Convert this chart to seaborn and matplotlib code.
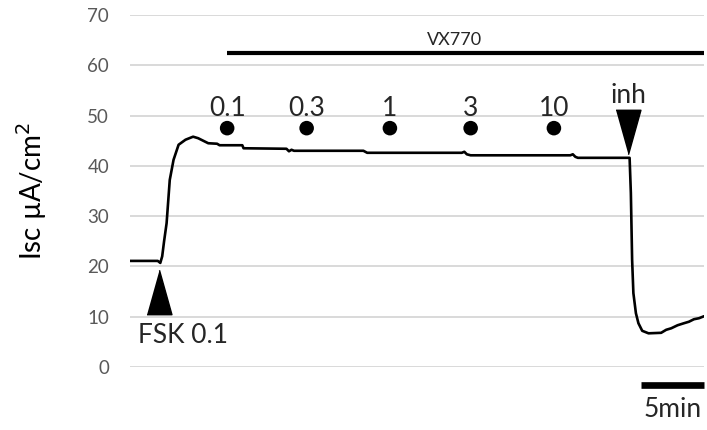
import matplotlib
matplotlib.use("Agg")
import matplotlib.pyplot as plt
import pandas as pd
import seaborn as sns

# short-circuit current trace (time in min, Isc in uA/cm2)
time_min = [0.0, 2.2, 2.4, 2.55, 2.7, 2.9, 3.15, 3.45, 3.85, 4.4,
            5.0, 5.4, 5.8, 6.2, 6.9, 7.1, 8.9, 9.0, 12.4,
            12.6, 12.8, 13.0, 18.5, 18.8, 26.3, 26.5, 26.7, 27.0, 34.9,
            35.1, 35.3, 35.5, 39.6, 39.7, 39.8, 39.9, 40.1, 40.3, 40.6,
            41.1, 42.1, 42.5, 42.9, 43.4, 43.9, 44.3, 44.7, 45.1, 45.5]
isc = [21.1, 21.1, 20.7, 22.0, 25.0, 28.6, 37.2, 41.2, 44.2, 45.2,
       45.8, 45.5, 45.0, 44.5, 44.4, 44.1, 44.1, 43.5, 43.4,
       42.9, 43.2, 43.0, 43.0, 42.6, 42.6, 42.8, 42.3, 42.1, 42.1,
       42.3, 41.8, 41.6, 41.6, 34.6, 21.3, 14.7, 10.7, 8.7, 7.2,
       6.7, 6.8, 7.4, 7.7, 8.3, 8.7, 9.0, 9.5, 9.7, 10.1]

# VX770 additions
dose_time = [7.7, 14.0, 20.6, 27.0, 33.6]
dose_labels = ["0.1", "0.3", "1", "3", "10"]
dose_level = 47.5

vx_start, vx_end, vx_level = 7.7, 45.5, 62.4
fsk_time, fsk_level = 2.3, 14.9
inh_time, inh_level = 39.5, 46.7
bar_start, bar_end, bar_level = 40.5, 45.5, -3.6

sns.set_theme(style="whitegrid")
plt.rcParams["font.family"] = ["Lato", "DejaVu Sans"]

trace = pd.DataFrame({"time": time_min, "isc": isc})
doses = pd.DataFrame({"time": dose_time, "level": [dose_level] * len(dose_time)})

fig = plt.figure(figsize=(7.07, 4.3), dpi=100)
ax = fig.add_axes([0.1839, 0.1465, 0.8119, 0.8186])

sns.lineplot(data=trace, x="time", y="isc", ax=ax, color="black", lw=1.9)
sns.scatterplot(data=doses, x="time", y="level", ax=ax, color="black",
                s=110, edgecolor="none")
for t, lab in zip(dose_time, dose_labels):
    ax.text(t, 50.0, lab, ha="center", va="baseline", fontsize=19)

# triangles for FSK and inhibitor
up_tri = [(-0.28, -0.5), (0.28, -0.5), (0, 0.5)]
down_tri = [(-0.28, 0.5), (0.28, 0.5), (0, -0.5)]
ax.scatter([fsk_time], [fsk_level], marker=up_tri, s=32 ** 2, color="black",
           clip_on=False, zorder=4)
ax.scatter([inh_time], [inh_level], marker=down_tri, s=32 ** 2, color="black",
           clip_on=False, zorder=4)
ax.text(4.2, 4.8, "FSK 0.1", ha="center", va="baseline", fontsize=19)
ax.text(inh_time, 52.5, "inh", ha="center", va="baseline", fontsize=19)

# VX770 bar
ax.plot([vx_start, vx_end], [vx_level, vx_level], color="black", lw=3,
        solid_capstyle="butt", clip_on=False)
ax.text((vx_start + vx_end) / 2 - 0.9, 64.1, "VX770", ha="center",
        va="baseline", fontsize=13)

# 5 min scale bar
ax.plot([bar_start, bar_end], [bar_level, bar_level], color="black", lw=4.8,
        solid_capstyle="butt", clip_on=False)
ax.text((bar_start + bar_end) / 2, -10.0, "5min", ha="center",
        va="baseline", fontsize=19)

ax.set_xlim(0, 45.5)
ax.set_ylim(0, 70)
ax.set_yticks(range(0, 71, 10))
ax.set_xticks([])
ax.set_xlabel("")
ax.set_ylabel("Isc µA/cm$^2$", fontsize=20, color="black")
ax.yaxis.set_label_coords(-0.142, 0.5)
ax.tick_params(axis="y", labelsize=13.5, labelcolor="#595959", pad=15, length=0)
ax.grid(axis="y", color="#d9d9d9", lw=1.4)
ax.grid(axis="x", visible=False)
for side in ax.spines.values():
    side.set_visible(False)

fig.savefig("out.png", dpi=100)
